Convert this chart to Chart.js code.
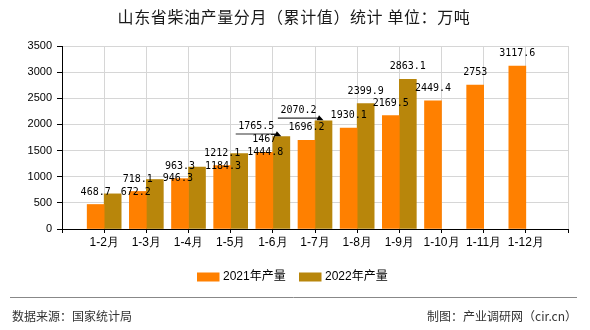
<!DOCTYPE html>
<html>
<head>
<meta charset="utf-8">
<script src="https://cdn.jsdelivr.net/npm/chart.js@4.4.1/dist/chart.umd.min.js"></script>
<style>
html, body { margin: 0; padding: 0; background: #fff; }
#wrap { width: 590px; height: 330px; }
</style>
</head>
<body>
<div id="wrap"><canvas id="dieselChart" width="590" height="330"></canvas></div>
<script>
// ===============================
// Data
// ===============================
const months = ['1-2月', '1-3月', '1-4月', '1-5月', '1-6月', '1-7月', '1-8月', '1-9月', '1-10月', '1-11月', '1-12月'];
const output2021 = [468.7, 718.1, 963.3, 1212.1, 1467, 1696.2, 1930.1, 2169.5, 2449.4, 2753, 3117.6];
const output2022 = [672.2, 946.3, 1184.3, 1444.8, 1765.5, 2070.2, 2399.9, 2863.1];
const yTicks = [0, 500, 1000, 1500, 2000, 2500, 3000, 3500];
const seriesNames = ['2021年产量', '2022年产量'];

const titleText = '山东省柴油产量分月（累计值）统计 单位：万吨';
const sourceText = '数据来源：国家统计局';
const makerText = '制图：产业调研网（cir.cn）';

// where the 2022 value labels sit (the original chart dodges overlaps)
const place2022 = ['right', 'right', 'right', 'right', 'leader', 'leader', 'top', 'top'];

const colors = ['#FF8000', '#B8860B'];

// one empty slot before and after so the bar pairs sit on the grid lines
const labels = ['', ...months, ''];
const pad = (arr) => {
    const out = [null, ...arr];
    while (out.length < labels.length) out.push(null);
    return out;
};

// ===============================
// Value labels (drawn on top of the bars)
// ===============================
const valueLabels = {
    id: 'valueLabels',
    afterDatasetsDraw(chart) {
        const ctx = chart.ctx;
        ctx.save();
        ctx.font = '10px "DejaVu Sans Mono", monospace';
        ctx.fillStyle = '#000';
        ctx.textBaseline = 'middle';
        chart.data.datasets.forEach((ds, di) => {
            const meta = chart.getDatasetMeta(di);
            meta.data.forEach((bar, i) => {
                const v = ds.data[i];
                if (v == null) return;
                const text = String(v);
                const place = di === 1 ? place2022[i - 1] : 'top';
                const left = bar.x - bar.width / 2;
                const right = bar.x + bar.width / 2;
                const top = bar.y;
                if (place === 'right') {
                    ctx.textAlign = 'left';
                    ctx.fillText(text, right - 0.5, top - 1);
                } else if (place === 'leader') {
                    const w = ctx.measureText(text).width;
                    const tx = left + 1.5 - w;
                    ctx.textAlign = 'left';
                    ctx.fillText(text, tx, top - 10);
                    ctx.strokeStyle = '#333';
                    ctx.lineWidth = 1.2;
                    ctx.beginPath();
                    ctx.moveTo(tx - 2.5, top - 2.7);
                    ctx.lineTo(left + 5, top - 2.7);
                    ctx.stroke();
                    ctx.beginPath();
                    ctx.moveTo(left + 4, top - 5.5);
                    ctx.lineTo(left + 1.5, top - 0.5);
                    ctx.lineTo(left + 8.5, top - 0.5);
                    ctx.closePath();
                    ctx.fill();
                } else {
                    ctx.textAlign = 'center';
                    ctx.fillText(text, bar.x, top - 12.5);
                }
            });
        });
        ctx.restore();
    }
};

// ===============================
// Title, legend and footer
// ===============================
const decor = {
    id: 'decor',
    afterDraw(chart) {
        const ctx = chart.ctx;
        ctx.save();
        ctx.textBaseline = 'middle';

        ctx.font = '16px "Noto Sans CJK SC", sans-serif';
        ctx.letterSpacing = '0.6px';
        ctx.fillStyle = '#1a1a1a';
        ctx.textAlign = 'center';
        ctx.fillText(titleText, 294, 17);
        ctx.letterSpacing = '0px';

        // legend
        ctx.font = '12px "Liberation Sans", "Noto Sans CJK SC", sans-serif';
        ctx.textAlign = 'left';
        const legendX = [197, 299];
        seriesNames.forEach((name, i) => {
            ctx.fillStyle = colors[i];
            ctx.fillRect(legendX[i], 272.5, 22.5, 9);
            ctx.fillStyle = '#000';
            ctx.fillText(name, legendX[i] + 26, 277);
        });

        // footer
        ctx.strokeStyle = '#888';
        ctx.lineWidth = 1;
        ctx.beginPath();
        ctx.moveTo(10, 297.5);
        ctx.lineTo(577, 297.5);
        ctx.stroke();
        ctx.font = '12px "Noto Sans CJK SC", sans-serif';
        ctx.fillStyle = '#333';
        ctx.textAlign = 'left';
        ctx.fillText(sourceText, 12, 316);
        ctx.textAlign = 'right';
        ctx.fillText(makerText, 577, 316);
        ctx.restore();
    }
};

Chart.defaults.font.family = '"Liberation Sans", Arial, sans-serif';
Chart.defaults.color = '#000';

new Chart(document.getElementById('dieselChart'), {
    type: 'bar',
    data: {
        labels: labels,
        datasets: [
            { label: seriesNames[0], data: pad(output2021), backgroundColor: colors[0], barThickness: 17 },
            { label: seriesNames[1], data: pad(output2022), backgroundColor: colors[1], barThickness: 17 }
        ]
    },
    options: {
        responsive: false,
        animation: false,
        layout: {
            padding: { top: 46, right: 22, bottom: 76, left: 0 }
        },
        scales: {
            x: {
                offset: false,
                grid: { offset: false, color: '#d6d6d6', tickColor: '#000', tickLength: 4 },
                border: { color: '#000' },
                ticks: { font: { size: 12 }, padding: 2, maxRotation: 0, autoSkip: false },
                afterFit: scale => { scale.height = 25; }
            },
            y: {
                min: 0,
                max: 3500,
                grid: { color: '#d6d6d6', tickColor: '#000', tickLength: 5 },
                border: { color: '#000' },
                ticks: { font: { size: 11 }, padding: 5, callback: v => String(v) },
                afterBuildTicks: scale => { scale.ticks = yTicks.map(v => ({ value: v })); },
                afterFit: scale => { scale.width = 62; }
            }
        },
        plugins: {
            legend: { display: false },
            tooltip: { enabled: false }
        }
    },
    plugins: [valueLabels, decor]
});
</script>
</body>
</html>
